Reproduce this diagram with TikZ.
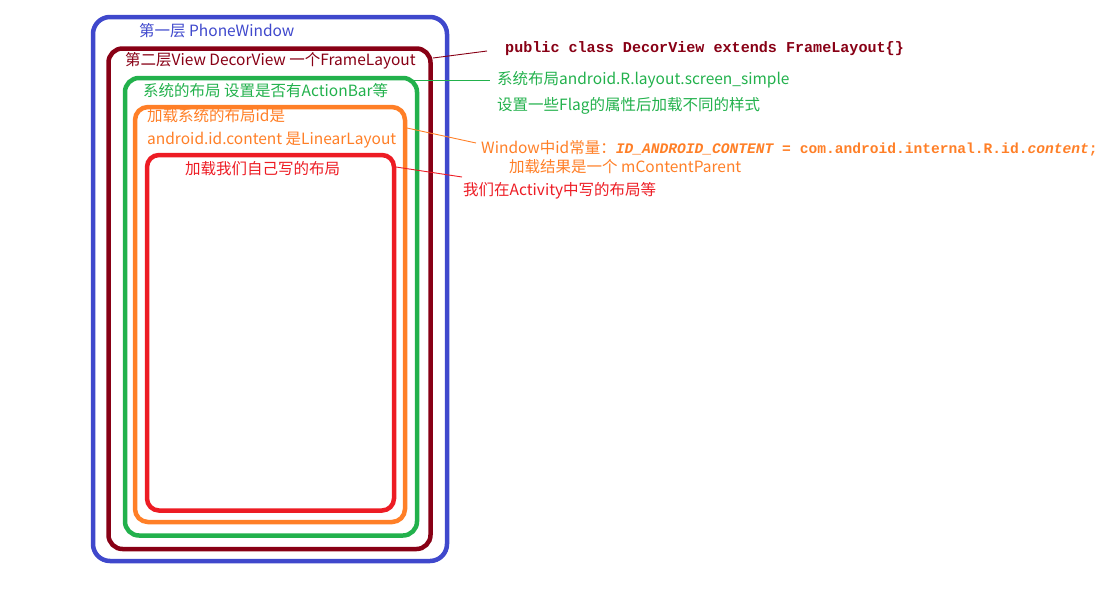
\documentclass[tikz,border=0pt]{standalone}
\usepackage{fontspec}
\newfontfamily\cjk{Noto Sans CJK SC}
\newfontfamily\code{Liberation Mono}
\definecolor{pblue}{RGB}{63,72,204}
\definecolor{pdred}{RGB}{136,0,21}
\definecolor{pgreen}{RGB}{34,177,76}
\definecolor{porange}{RGB}{255,127,39}
\definecolor{pred}{RGB}{237,28,36}
\begin{document}
\begin{tikzpicture}[x=1pt,y=-1pt,
  layer/.style={line width=4.5pt,rounded corners=#1},
  lbl/.style={anchor=west,inner sep=0pt,font=\cjk\fontsize{15.5}{17}\selectfont},
  cd/.style={anchor=west,inner sep=0pt,font=\code\bfseries\fontsize{15.1}{17}\selectfont},
  lead/.style={line width=0.9pt}]
\useasboundingbox (0,0) rectangle (1116,590);
% boxes
\draw[pblue,layer=17] (93,17) rectangle (447,561);
\draw[pdred,layer=14] (108.5,48.5) rectangle (430.5,549);
\draw[pgreen,layer=14] (125,78) rectangle (417,535.5);
\draw[porange,layer=13] (135,107) rectangle (405,522);
\draw[pred,layer=12] (147,155) rectangle (394,510.5);
% inner labels
\node[lbl,text=pblue] (t1) at (139,31) {第一层 PhoneWindow};
\node[lbl,text=pdred] (t2) at (125,61) {第二层View DecorView 一个FrameLayout};
\node[lbl,text=pgreen] (t3) at (143,91) {系统的布局 设置是否有ActionBar等};
\node[lbl,text=porange] (t4) at (147,116) {加载系统的布局id是};
\node[lbl,text=porange] (t5) at (147,140) {android.id.content 是LinearLayout};
\node[lbl,text=pred] (t6) at (185,169) {加载我们自己写的布局};
% outer labels
\node[cd,text=pdred] (c1) at (505,49) {public class DecorView extends FrameLayout\{\}};
\node[lbl,text=pgreen] (g1) at (497,80) {系统布局android.R.layout.screen\_simple};
\node[lbl,text=pgreen] (g2) at (497,106) {设置一些Flag的属性后加载不同的样式};
\node[lbl,text=porange] (o1) at (481,148) {Window中id常量：\code\bfseries\fontsize{14.6}{17}\selectfont\itshape ID\_ANDROID\_CONTENT\upshape{} = com.android.internal.R.id.\itshape content\upshape;};
\node[lbl,text=porange] (o2) at (509,167) {加载结果是一个 mContentParent};
\node[lbl,text=pred] (r1) at (463,191) {我们在Activity中写的布局等};
% leader lines
\coordinate (a1) at (433,58); \coordinate (b1) at (487,51);
\coordinate (a2) at (414,80); \coordinate (b2) at (490,80);
\coordinate (a3) at (407,128); \coordinate (b3) at (476,143);
\coordinate (a4) at (396,167); \coordinate (b4) at (462,177);
\draw[lead,pdred] (a1) -- (b1);
\draw[lead,pgreen] (a2) -- (b2);
\draw[lead,porange] (a3) -- (b3);
\draw[lead,pred] (a4) -- (b4);
\end{tikzpicture}
\end{document}
